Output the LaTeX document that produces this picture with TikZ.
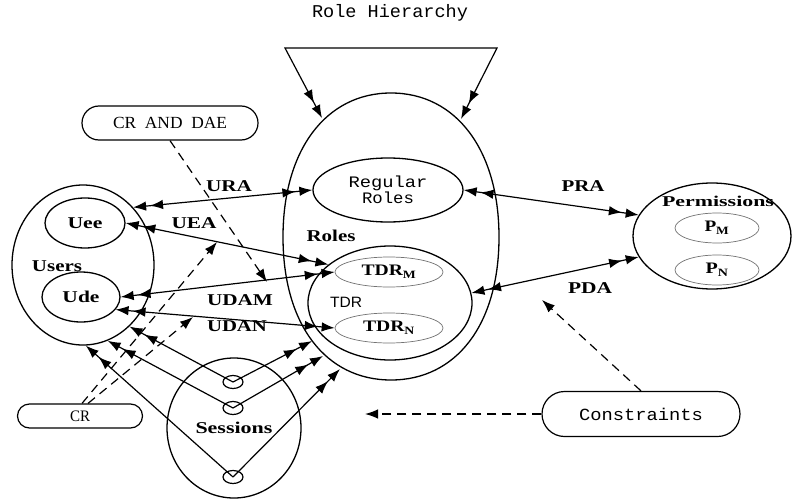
\documentclass[tikz,border=0pt]{standalone}
\usepackage{fontspec}
\setmainfont{Liberation Serif}
\newfontfamily\monof{Liberation Mono}
\newfontfamily\sansf{Liberation Sans}
\usetikzlibrary{shapes.geometric,shapes.misc,arrows.meta}
\newcommand{\hw}[2]{\resizebox{#1pt}{\height}{#2}}
\tikzset{
  dd/.tip={Latex[length=13pt,width=9.5pt,sep=4pt] Latex[length=13pt,width=9.5pt]},
  sd/.tip={Latex[length=13pt,width=9.5pt]}
}
\begin{document}
\begin{tikzpicture}[x=1pt,y=-1pt,
  ell/.style={ellipse,draw,line width=1.3pt,inner sep=0pt},
  subell/.style={ellipse,draw=black!55,line width=0.7pt,inner sep=0pt},
  pill/.style={rounded rectangle,draw,line width=1.2pt,inner sep=0pt},
  blab/.style={inner sep=0pt,font=\bfseries\fontsize{16.5}{18}\selectfont},
  mlab/.style={inner sep=0pt,font=\monof\fontsize{16}{18}\selectfont},
  conn/.style={line width=1.2pt,dd-dd},
  conne/.style={line width=1.2pt,-dd},
  dsh/.style={line width=1.2pt,dash pattern=on 9pt off 6pt,-sd},
]
\useasboundingbox[fill=white] (0,0) rectangle (794,500);

% title
\node[mlab,font=\monof\fontsize{18}{20}\selectfont] (title) at (390,13) {\hw{156}{Role Hierarchy}};

% Roles outer shape
\coordinate (roles) at (391,237);
\draw[line width=1.3pt] (391,93) .. controls (456,93) and (499,150) .. (499,237)
  .. controls (499,325) and (456,380) .. (391,380)
  .. controls (326,380) and (283,325) .. (283,237)
  .. controls (283,150) and (326,93) .. (391,93) -- cycle;
\node[blab] (lroles) at (331,236) {\hw{49}{Roles}};

% role hierarchy arrows
\coordinate (h1) at (285,48);
\coordinate (h2) at (497,48);
\coordinate (rhl) at (322,118);
\coordinate (rhr) at (461,119);
\draw[conn] (rhl) -- (h1) -- (h2) -- (rhr);

% inner role nodes
\node[ell,minimum width=150pt,minimum height=64pt,font=\monof\fontsize{16}{16}\selectfont,align=center] (regular) at (388,190) {\hw{79}{Regular}\\[0pt]\hw{52}{Roles}};
\node[ell,minimum width=164pt,minimum height=114pt] (tdr) at (390,303) {};
\node[subell,minimum width=108pt,minimum height=30pt,font=\bfseries\fontsize{16}{18}\selectfont] (tdrm) at (389,272) {\hw{55}{TDR\textsubscript{M}}};
\node[subell,minimum width=108pt,minimum height=30pt,font=\bfseries\fontsize{16}{18}\selectfont] (tdrn) at (389,328) {\hw{52}{TDR\textsubscript{N}}};
\node[inner sep=0pt,font=\sansf\fontsize{15}{17}\selectfont] (ltdr) at (346,302) {\hw{32}{TDR}};

% users
\node[ell,minimum width=142pt,minimum height=160pt] (users) at (83,265) {};
\node[ell,minimum width=80pt,minimum height=50pt,font=\bfseries\fontsize{16.5}{18}\selectfont] (uee) at (85,223) {\hw{35}{Uee}};
\node[ell,minimum width=78pt,minimum height=50pt,font=\bfseries\fontsize{16.5}{18}\selectfont] (ude) at (81,297) {\hw{37}{Ude}};
\node[blab] (lusers) at (57,266) {\hw{50}{Users}};

% permissions
\node[ell,minimum width=158pt,minimum height=106pt] (perm) at (712,236) {};
\node[inner sep=0pt,font=\bfseries\fontsize{15}{17}\selectfont] (lperm) at (718,201) {\hw{112}{Permissions}};
\node[subell,minimum width=84pt,minimum height=30pt,font=\bfseries\fontsize{16}{18}\selectfont] (pm) at (717,228) {\hw{25}{P\textsubscript{M}}};
\node[subell,minimum width=84pt,minimum height=30pt,font=\bfseries\fontsize{16}{18}\selectfont] (pn) at (717,270) {\hw{23}{P\textsubscript{N}}};

% sessions
\node[ell,minimum width=134pt,minimum height=140pt,font=\bfseries\fontsize{16.5}{18}\selectfont] (sess) at (234,428) {\hw{77}{Sessions}};
\node[ell,line width=1.2pt,minimum width=20pt,minimum height=13pt] (s1) at (233,382) {};
\node[ell,line width=1.2pt,minimum width=20pt,minimum height=13pt] (s2) at (233,408) {};
\node[ell,line width=1.2pt,minimum width=20pt,minimum height=13pt] (s3) at (233,477) {};

% pills
\node[pill,minimum width=176pt,minimum height=34pt,font=\fontsize{17}{19}\selectfont] (crdae) at (170,123) {\hw{114}{CR\ \ AND\ \ DAE}};
\node[pill,minimum width=125pt,minimum height=24pt,font=\fontsize{16}{18}\selectfont] (cr) at (80,416) {\hw{20}{CR}};
\node[pill,minimum width=198pt,minimum height=45pt,font=\monof\fontsize{17}{19}\selectfont] (cons) at (641,414) {\hw{124}{Constraints}};

% solid connectors
\draw[conn] (users.49) -- (regular.west);
\draw[conn] (uee.east) -- (tdr.148);
\draw[conn] (ude.east) -- (tdrm.west);
\draw[conn] (ude.-20) -- (tdrn.west);
\draw[conn] (regular.east) -- (perm.164);
\draw[conn] (tdr.7) -- (perm.196);

% session connectors
\coordinate (rb1) at (312,341);
\coordinate (rb2) at (323,356);
\coordinate (rb3) at (340,369);
\draw[conne] (s1.center) -- (users.-53);
\draw[conne] (s2.center) -- (users.-72);
\draw[conne] (s3.center) -- (users.-88);
\draw[conne] (s1.center) -- (rb1);
\draw[conne] (s2.center) -- (rb2);
\draw[conne] (s3.center) -- (rb3);

% dashed connectors
\coordinate (d1) at (267,282);
\coordinate (d2) at (217,242);
\coordinate (d3) at (193,317);
\coordinate (d4) at (365,414);
\coordinate (d5) at (542,300);
\draw[dsh] (crdae.south) -- (d1);
\draw[dsh] ([xshift=2pt]cr.north) -- (d2);
\draw[dsh] ([xshift=8pt]cr.north) -- (d3);
\draw[dsh] (cons.west) -- (d4);
\draw[dsh] (cons.north) -- (d5);

% relation labels
\node[blab] (lura) at (229,186) {\hw{46}{URA}};
\node[blab] (luea) at (194,223) {\hw{45}{UEA}};
\node[blab] (ludam) at (240,300) {\hw{66}{UDAM}};
\node[blab] (ludan) at (237,326) {\hw{60}{UDAN}};
\node[blab] (lpra) at (583,186) {\hw{43}{PRA}};
\node[blab] (lpda) at (590,288) {\hw{44}{PDA}};
\end{tikzpicture}
\end{document}
